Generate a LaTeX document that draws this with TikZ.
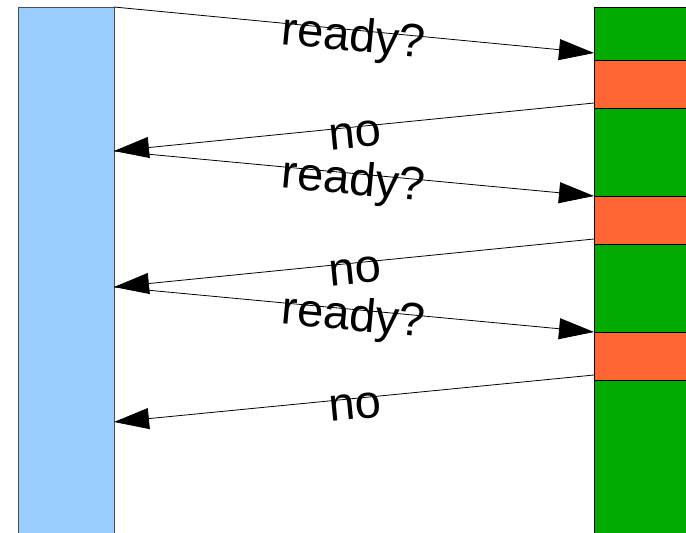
\documentclass[tikz,border=0pt]{standalone}
\usepackage{fontspec}
\setmainfont{Liberation Sans}
\usetikzlibrary{arrows.meta}

\definecolor{hostblue}{HTML}{99CCFF}
\definecolor{devgreen}{HTML}{00AA00}
\definecolor{busyred}{HTML}{FF6633}

\tikzset{
  msg/.style={-{Triangle[length=35pt,width=21pt]}, line width=0.8pt},
  lbl/.style={sloped, anchor=base, yshift=-21pt, font=\fontsize{47}{50}\selectfont}
}

\begin{document}
\begin{tikzpicture}[x=1pt,y=-1pt]
\useasboundingbox (0,0) rectangle (686,533);

\filldraw[fill=hostblue, draw=black!70, line width=0.8pt] (18,7) rectangle (114,545);
\filldraw[fill=devgreen, draw=black, line width=0.8pt] (594,7) rectangle (700,545);
\foreach \y in {60,196,332}
  \filldraw[fill=busyred, draw=black, line width=0.8pt] (594,\y) rectangle (700,\y+48);

\coordinate (h0) at (114,7);
\coordinate (h1) at (114,151);
\coordinate (h2) at (114,287);
\coordinate (h3) at (114,422);
\coordinate (d1) at (594,53);
\coordinate (d2) at (594,196);
\coordinate (d3) at (594,332);
\coordinate (r1) at (594,103);
\coordinate (r2) at (594,239);
\coordinate (r3) at (594,375);

\draw[msg] (h0) -- node[lbl] {ready?} (d1);
\draw[msg] (r1) -- node[lbl] {no} (h1);
\draw[msg] (h1) -- node[lbl] {ready?} (d2);
\draw[msg] (r2) -- node[lbl] {no} (h2);
\draw[msg] (h2) -- node[lbl] {ready?} (d3);
\draw[msg] (r3) -- node[lbl] {no} (h3);
\end{tikzpicture}
\end{document}
